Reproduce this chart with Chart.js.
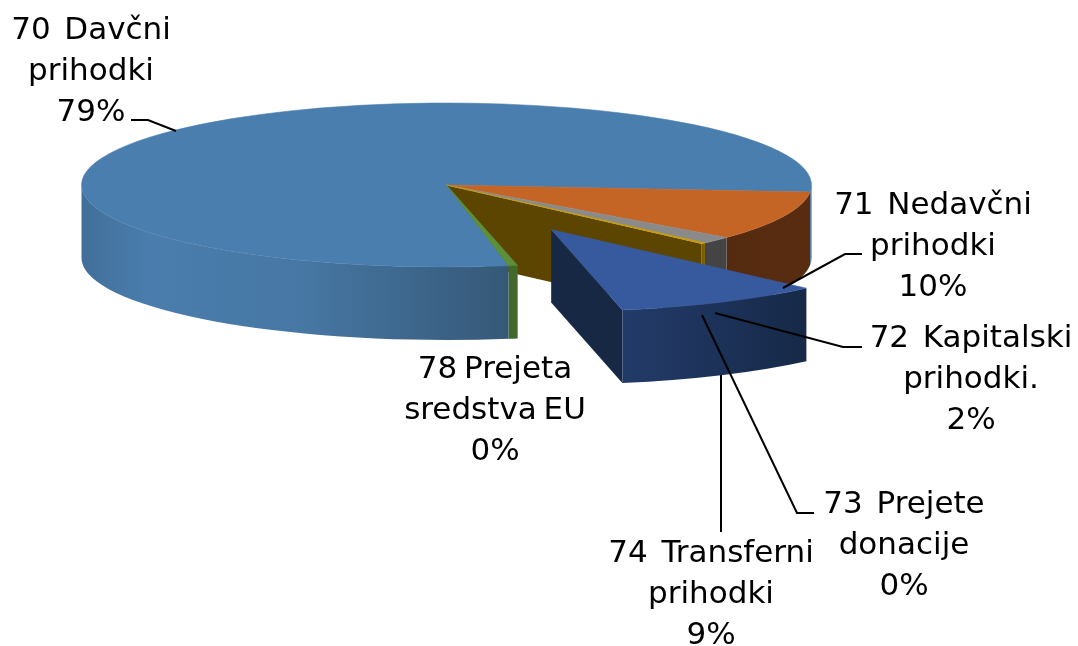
<!DOCTYPE html>
<html>
<head>
<meta charset="utf-8">
<style>html,body{margin:0;padding:0;background:#fff}#wrap{width:1078px;height:646px}</style>
<script src="https://cdn.jsdelivr.net/npm/chart.js@4/dist/chart.umd.min.js"></script>
</head>
<body>
<div id="wrap"><canvas id="c" width="1078" height="646"></canvas></div>
<script>
const categories = [
  ['70  Davčni', 'prihodki'],
  ['71  Nedavčni', 'prihodki'],
  ['72  Kapitalski', 'prihodki.'],
  ['73  Prejete', 'donacije'],
  ['74  Transferni', 'prihodki'],
  ['78 Prejeta', 'sredstva EU']
];
const values = [79.1, 9.7, 1.4, 0.2, 9.2, 0.4];
const percentLabels = ['79%', '10%', '2%', '0%', '9%', '0%'];
const explode = [0, 0, 0, 0, 0.615, 0];
const topColors = ['#4A7EAF', '#C46525', '#8A8A8A', '#C89800', '#375A9F', '#5B8F3A'];
const rimColors = [
  [[0, '#426F99'], [0.16, '#4A7DAD'], [0.5, '#4778A5'], [1, '#355877']],
  [[0, '#552B10'], [1, '#582C11']],
  [[0, '#444444'], [1, '#444444']],
  [[0, '#7A5E00'], [1, '#7A5E00']],
  [[0, '#233B6A'], [1, '#162948']],
  [[0, '#42682B'], [1, '#42682B']]
];
const radialColors = ['#000', '#000', '#000', '#5C4500', '#162844', '#000'];

const G = { cx: 446.5, cy: 185, rx: 365, ry: 82, depth: 73 };
const labelCenters = [[91, 39], [933, 214], [971, 347], [904, 513], [711, 562], [495, 378]];
const leaders = [
  [[131, 120], [148, 120], [176, 131]],
  [[783, 288], [845, 254], [862, 254]],
  [[715, 313], [843, 347], [862, 347]],
  [[702, 315], [797, 513], [814, 513]],
  [[721, 375], [721, 532]],
  []
];

function rimGradient(ctx, stops, x0, x1) {
  const g = ctx.createLinearGradient(x0, 0, x1, 0);
  stops.forEach(s => g.addColorStop(s[0], s[1]));
  return g;
}
function drawRim(ctx, arc, i, ox, oy) {
  const TAU = Math.PI * 2, d = G.depth;
  const cx = G.cx + ox, cy = G.cy + oy;
  for (let k = -2; k <= 2; k++) {
    const a1 = Math.max(arc.startAngle + k * TAU, 0);
    const a2 = Math.min(arc.endAngle + k * TAU, Math.PI);
    if (a2 <= a1) continue;
    const x0 = cx + G.rx * Math.cos(a2), x1 = cx + G.rx * Math.cos(a1);
    ctx.beginPath();
    ctx.ellipse(cx, cy, G.rx, G.ry, 0, a1, a2);
    ctx.ellipse(cx, cy + d, G.rx, G.ry, 0, a2, a1, true);
    ctx.closePath();
    ctx.fillStyle = rimGradient(ctx, rimColors[i], x0, Math.max(x1, x0 + 1));
    ctx.fill();
  }
}
function drawRadial(ctx, angle, color, ox, oy) {
  const cx = G.cx + ox, cy = G.cy + oy, d = G.depth;
  const x = cx + G.rx * Math.cos(angle), y = cy + G.ry * Math.sin(angle);
  ctx.beginPath();
  ctx.moveTo(cx, cy); ctx.lineTo(x, y); ctx.lineTo(x, y + d); ctx.lineTo(cx, cy + d);
  ctx.closePath();
  ctx.fillStyle = color;
  ctx.fill();
}
function drawTop(ctx, arc, ox, oy) {
  const R = arc.outerRadius;
  ctx.save();
  ctx.translate(G.cx + ox, G.cy + oy);
  ctx.scale(G.rx / R, G.ry / R);
  ctx.translate(-arc.x, -arc.y);
  arc.draw(ctx);
  ctx.restore();
}
const pie3d = {
  id: 'pie3d',
  beforeDatasetDraw(chart) {
    const ctx = chart.ctx, arcs = chart.getDatasetMeta(0).data;
    const offs = arcs.map((a, i) => {
      const mid = (a.startAngle + a.endAngle) / 2;
      return [explode[i] * G.rx * Math.cos(mid), explode[i] * G.ry * Math.sin(mid)];
    });
    const still = arcs.map((a, i) => i).filter(i => !explode[i]);
    const moved = arcs.map((a, i) => i).filter(i => explode[i]);
    moved.forEach(m => { if (m > 0) drawRadial(ctx, arcs[m - 1].endAngle, radialColors[m - 1], 0, 0); });
    still.forEach(i => drawRim(ctx, arcs[i], i, 0, 0));
    still.forEach(i => drawTop(ctx, arcs[i], 0, 0));
    moved.forEach(i => {
      drawRadial(ctx, arcs[i].endAngle, radialColors[i], offs[i][0], offs[i][1]);
      drawRim(ctx, arcs[i], i, offs[i][0], offs[i][1]);
      drawTop(ctx, arcs[i], offs[i][0], offs[i][1]);
    });
    return false;
  },
  afterDatasetsDraw(chart) {
    const ctx = chart.ctx;
    ctx.save();
    ctx.strokeStyle = '#000';
    ctx.lineWidth = 2;
    leaders.forEach(pts => {
      if (!pts.length) return;
      ctx.beginPath();
      pts.forEach((p, j) => j ? ctx.lineTo(p[0], p[1]) : ctx.moveTo(p[0], p[1]));
      ctx.stroke();
    });
    ctx.fillStyle = '#000';
    ctx.font = '31px "DejaVu Sans"';
    ctx.letterSpacing = '0px';
    ctx.wordSpacing = '-3px';
    ctx.textAlign = 'center';
    ctx.textBaseline = 'alphabetic';
    categories.forEach((lines, i) => {
      const [x, y] = labelCenters[i];
      lines.concat(percentLabels[i]).forEach((t, j) => ctx.fillText(t, x, y + j * 41));
    });
    ctx.restore();
  }
};
new Chart(document.getElementById('c'), {
  type: 'pie',
  data: {
    labels: categories,
    datasets: [{
      data: values,
      backgroundColor: topColors,
      borderColor: topColors,
      borderWidth: 0.5
    }]
  },
  options: {
    responsive: false,
    animation: false,
    rotation: 170.2,
    radius: 200,
    plugins: { legend: { display: false }, tooltip: { enabled: false } }
  },
  plugins: [pie3d]
});
</script>
</body>
</html>
